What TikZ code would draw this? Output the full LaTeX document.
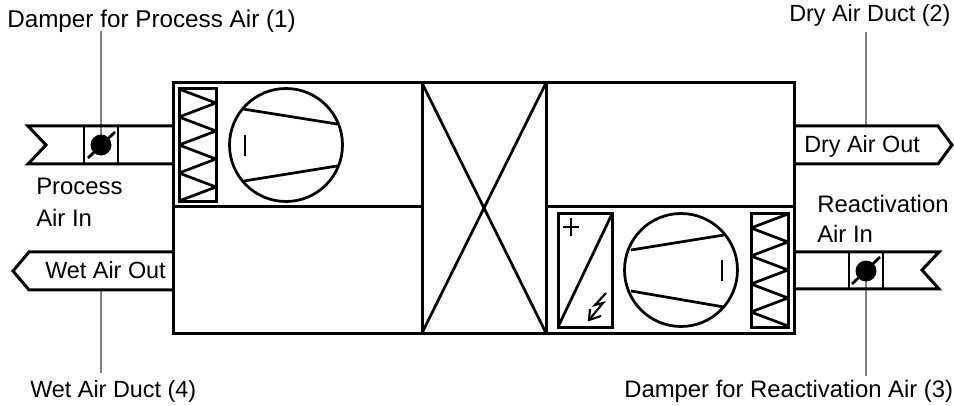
\documentclass[tikz,border=0pt]{standalone}
\usepackage{fontspec}
\setmainfont{Liberation Sans}
\tikzset{
  px/.style={x=0.75pt,y=-0.75pt},
  heavy/.style={draw=black,line width=2.25pt,line join=miter},
  thin/.style={draw=black,line width=2.05pt},
  zigzag/.style={draw=black,line width=2.05pt,line join=bevel},
  leader/.style={draw=black!50,line width=1.2pt},
  lbl/.style={font=\fontsize{17.9}{20}\selectfont,inner sep=0pt,anchor=base west,text=black},
  lblduct/.style={lbl,font=\fontsize{17.55}{20}\selectfont},
  lbldamper/.style={lbl,font=\fontsize{18.2}{20}\selectfont},
}
\begin{document}
\begin{tikzpicture}[px]
\useasboundingbox (0,0) rectangle (954,406);
% named anchors for the leaders
\coordinate (d1) at (101,145); \coordinate (d1top) at (101,31);
\coordinate (d3) at (866,271); \coordinate (d3bot) at (866,376);
\coordinate (wetduct) at (101,290); \coordinate (wetbot) at (101,373);
\coordinate (dryduct) at (866,126); \coordinate (drytop) at (866,32);
\draw[leader] (d1top) -- (d1);
\draw[leader] (d3) -- (d3bot);
\draw[leader] (wetduct) -- (wetbot);
\draw[leader] (dryduct) -- (drytop);
% main casing
\draw[heavy] (173,83) rectangle (794,333);
\draw[heavy] (173,207) -- (422,207);
\draw[heavy] (546,207) -- (794,207);
\draw[heavy] (422,83) -- (422,333);
\draw[heavy] (546,83) -- (546,333);
\draw[thin] (422,83) -- (546,333);
\draw[thin] (546,83) -- (422,333);
% process air inlet duct
\draw[heavy] (173,126) -- (28,126) -- (46,145) -- (28,164) -- (173,164);
\draw[thin] (84,126) -- (84,164);
\draw[thin] (118,126) -- (118,164);
\fill[black] (d1) circle (10.5);
\draw[thin] (88,158) -- (115,132);
% process filter
\draw[heavy] (179,89) rectangle (216,202);
\draw[zigzag] (179,89) -- (216,103) -- (179,117) -- (216,131) -- (179,145) -- (216,159) -- (179,173) -- (216,187) -- (179,201);
% process fan
\draw[thin] (286,145) circle (56.5);
\draw[thin] (243,109) -- (337,124);
\draw[thin] (244,181) -- (337,166);
\draw[thin] (245,135) -- (245,156);
% wet air duct
\draw[heavy] (173,252) -- (29,252) -- (13,271) -- (29,290) -- (173,290);
% dry air duct
\draw[heavy] (794,126) -- (938,126) -- (952,145) -- (938,164) -- (794,164);
% reactivation inlet duct
\draw[heavy] (794,252) -- (939,252) -- (922,270) -- (939,289) -- (794,289);
\draw[thin] (849,252) -- (849,289);
\draw[thin] (883,252) -- (883,289);
\fill[black] (d3) circle (10.5);
\draw[thin] (852,284) -- (880,257);
% heater
\draw[heavy] (558,214) rectangle (612,327);
\draw[thin] (558,327) -- (612,214);
\draw[thin] (563,227) -- (579,227);
\draw[thin] (571,218) -- (571,236);
\draw[line width=1.6pt] (606,293) -- (595,305) -- (603,303) -- (589,320);
\draw[line width=1.6pt] (590,309) -- (589,320) -- (601,316);
% reactivation fan
\draw[thin] (681,270) circle (56.5);
\draw[thin] (631,250) -- (724,235);
\draw[thin] (631,291) -- (724,307);
\draw[thin] (722,260) -- (722,281);
% reactivation filter
\draw[heavy] (751,214) rectangle (788,327);
\draw[zigzag] (788,214) -- (751,228) -- (788,242) -- (751,256) -- (788,270) -- (751,284) -- (788,298) -- (751,312) -- (788,326);
% labels
\node[lbldamper] (t1) at (7,28) {Damper for Process Air (1)};
\node[lblduct] (t2) at (789,22) {Dry Air Duct (2)};
\node[lbl] (t3) at (624,397) {Damper for Reactivation Air (3)};
\node[lblduct] (t4) at (30,397) {Wet Air Duct (4)};
\node[lbl] (t5) at (36,195) {Process};
\node[lbl] (t6) at (36,227) {Air In};
\node[lbl] (t7) at (817,213) {Reactivation};
\node[lbl] (t8) at (817,243) {Air In};
\node[lblduct] (t9) at (45,279) {Wet Air Out};
\node[lblduct] (t10) at (804,153) {Dry Air Out};
\end{tikzpicture}
\end{document}
